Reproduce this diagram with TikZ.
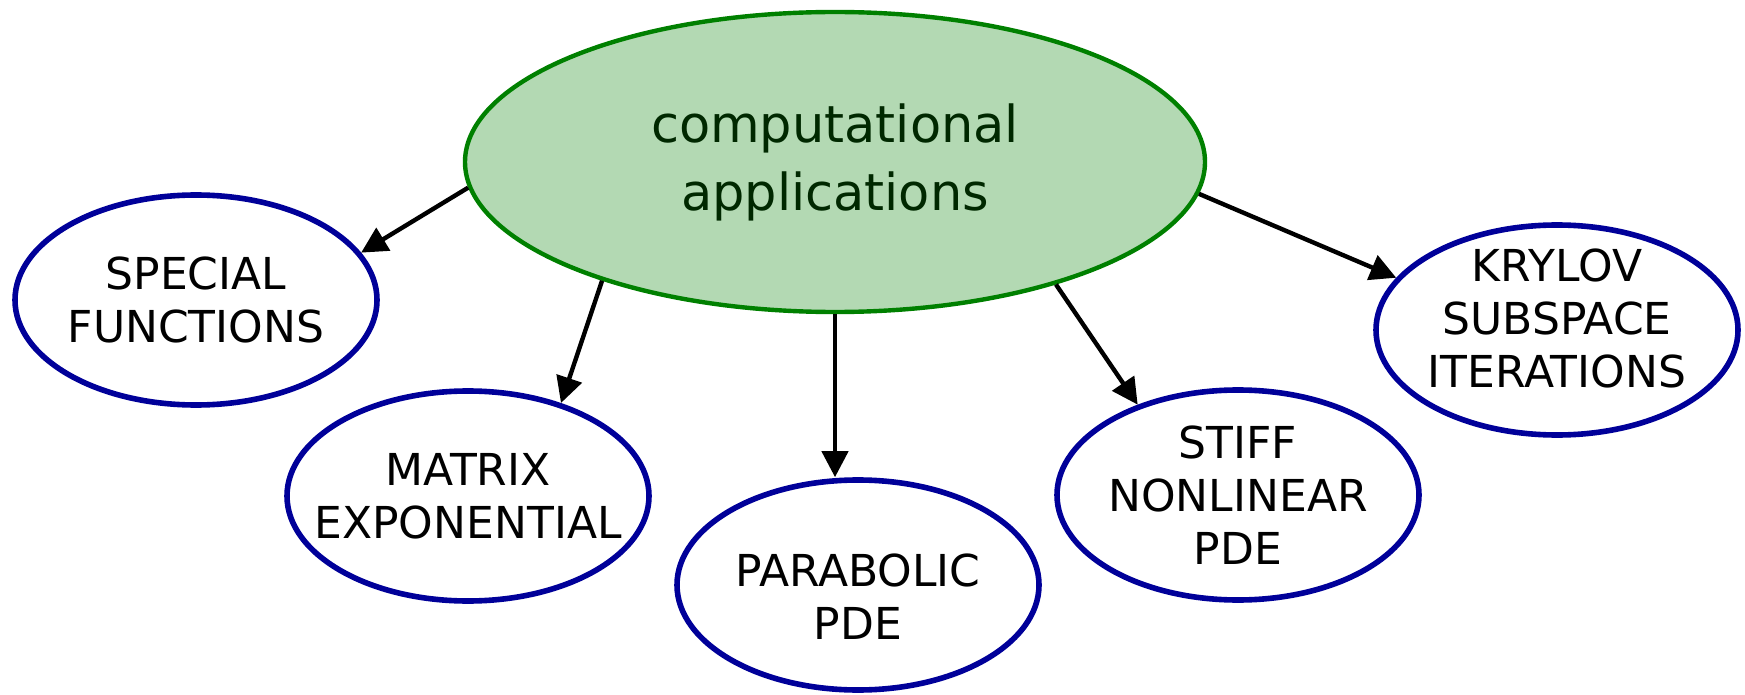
\documentclass[tikz,border=0pt]{standalone}
\usepackage{fontspec}
\setmainfont{DejaVu Sans}
\usetikzlibrary{shapes.geometric,arrows.meta}
\definecolor{cgreen}{RGB}{0,128,0}
\definecolor{cfill}{RGB}{179,217,179}
\definecolor{ctext}{RGB}{0,40,0}
\definecolor{cblue}{RGB}{0,0,153}
\begin{document}
\begin{tikzpicture}[x=0.5pt,y=-0.5pt,
  mainbox/.style={ellipse,draw=cgreen,fill=cfill,line width=2.2pt,minimum width=370pt,minimum height=150pt,
    text=ctext,font=\fontsize{25.5}{34}\selectfont,align=center,inner sep=0pt},
  subbox/.style={ellipse,draw=cblue,line width=2.8pt,minimum width=181pt,minimum height=105pt,inner sep=0pt},
  subtext/.style={font=\fontsize{22}{26.5}\selectfont,align=center,inner sep=0pt},
  arr/.style={line width=2.2pt,-{Triangle[length=13pt,width=13pt]}}]
\useasboundingbox (0,0) rectangle (1745,695);
\node[mainbox] (c) at (835,162) {computational\\applications};
\node[subbox,label={[subtext]center:SPECIAL\\FUNCTIONS}] (sf) at (196,300) {};
\node[subbox,label={[subtext]center:MATRIX\\EXPONENTIAL}] (me) at (468,496) {};
\node[subbox,label={[subtext,yshift=-6pt]center:PARABOLIC\\PDE}] (pp) at (858,585) {};
\node[subbox,label={[subtext]center:STIFF\\NONLINEAR\\PDE}] (sn) at (1238,495) {};
\node[subbox,label={[subtext,yshift=6pt]center:KRYLOV\\SUBSPACE\\ITERATIONS}] (kr) at (1557,330) {};
\draw[arr] (c.184.7) -- (sf.16);
\draw[arr] (c.207.9) -- (me.45.9);
\draw[arr] (c.south) -- (c.south |- pp.north);
\draw[arr] (c.331.1) -- (sn.138.8);
\draw[arr] (c.355.1) -- (kr.162.7);
\end{tikzpicture}
\end{document}
